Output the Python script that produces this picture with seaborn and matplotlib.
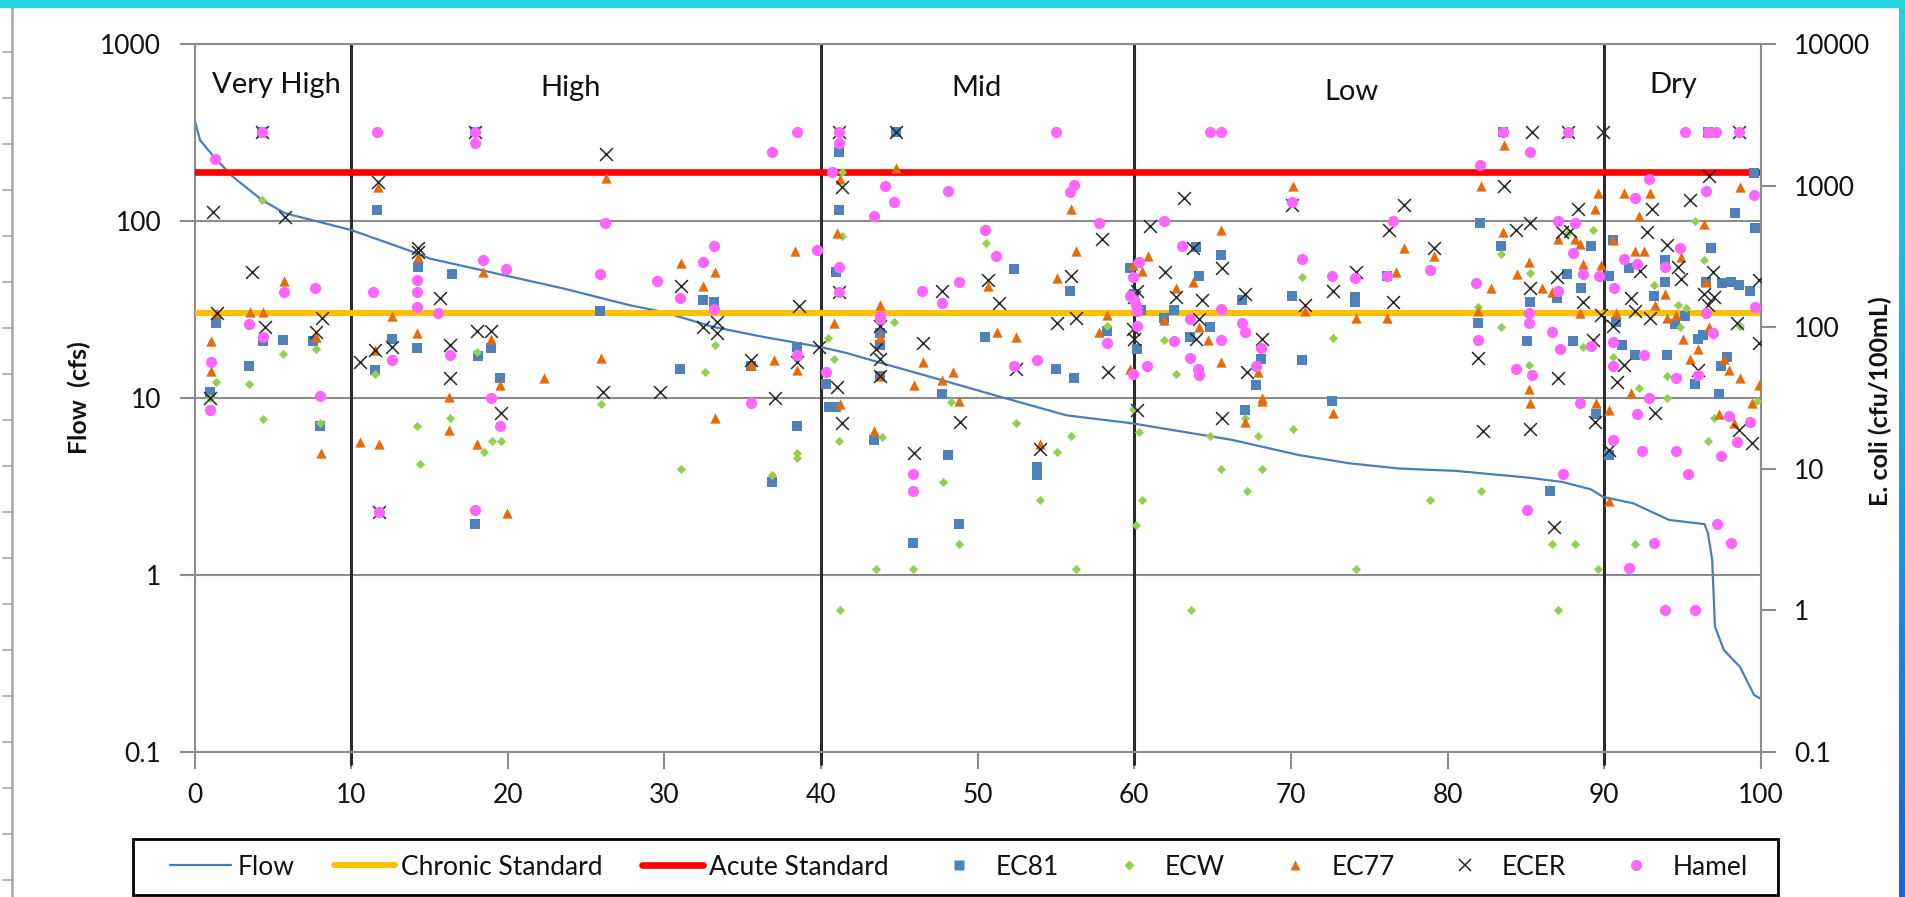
import numpy as np
import pandas as pd
import matplotlib
matplotlib.use("Agg")
import matplotlib.pyplot as plt
import seaborn as sns
from matplotlib.lines import Line2D
from matplotlib.patches import Rectangle
from matplotlib.ticker import NullLocator
from matplotlib.colors import LinearSegmentedColormap

sns.set_theme(style="white")
plt.rcParams["font.family"] = ["Lato", "DejaVu Sans"]

# ---------------- data ----------------
# flow duration curve (percent of time exceeded, flow in cfs)
FLOW_PCT = [0, 0.34, 1.30, 2.45, 4.28, 5.76, 10.02, 14.17, 15.02, 19.28, 23.53, 27.79,
            29.91, 33.10, 36.30, 39.91, 41.62, 43.94, 47.77, 51.40, 55.66, 59.89, 66.28,
            70.55, 73.75, 76.93, 80.54, 85.08, 87.34, 89.16, 89.93, 91.88, 94.14, 96.41,
            96.63, 96.90, 97.08, 97.65, 98.67, 99.58, 100]
FLOW_CFS = [372, 287, 227, 178, 132, 111, 89, 66, 61.5, 50.6, 41.7, 33.5,
            30.7, 25.3, 22.2, 19.5, 18.0, 15.7, 12.6, 10.2, 8.0, 7.2, 5.8,
            4.76, 4.28, 4.0, 3.88, 3.56, 3.36, 3.05, 2.77, 2.54, 2.05, 1.94,
            1.73, 1.22, 0.51, 0.377, 0.303, 0.21, 0.20]

CHRONIC_STD = 126    # cfu/100mL
ACUTE_STD = 1260     # cfu/100mL

REGIME_BREAKS = [10, 40, 60, 90]
REGIME_NAMES = ["Very High", "High", "Mid", "Low", "Dry"]
REGIME_CENTERS = [5.25, 24.0, 49.9, 73.9, 94.4]

# E. coli samples (flow exceedance percent, cfu/100mL)
EC81 = [
    (0.98, 35), (1.38, 108), (3.44, 53), (4.28, 2420), (4.38, 80), (5.66, 82), (7.57, 80), (7.97, 20),
    (11.51, 50), (11.61, 680), (12.59, 83), (14.17, 72), (14.26, 267), (16.43, 240), (17.90, 2420), (17.90, 4.1),
    (18.10, 63), (18.89, 71), (19.48, 44), (25.87, 130), (30.99, 51), (32.46, 157), (33.15, 151), (35.51, 53),
    (36.89, 8.1), (38.46, 20), (38.46, 73), (40.33, 40), (40.53, 27.5), (40.92, 27.5), (40.92, 247), (41.12, 1735),
    (41.12, 680), (43.38, 16), (43.77, 92), (43.77, 75), (43.77, 45), (44.76, 2420), (45.84, 3.0), (47.71, 34),
    (48.10, 12.6), (48.79, 4.1), (50.46, 85), (52.33, 258), (53.81, 10.4), (53.81, 9.0), (54.99, 51), (55.87, 182),
    (56.17, 44), (58.24, 94), (59.71, 262), (60.01, 172), (60.20, 70), (60.40, 133), (61.87, 116), (62.56, 133),
    (63.55, 85), (63.94, 371), (64.14, 230), (64.83, 100), (65.51, 324), (66.89, 156), (67.09, 26), (67.78, 39),
    (68.07, 60), (70.04, 166), (70.73, 59), (72.60, 30), (74.07, 164), (74.07, 150), (76.14, 229), (81.95, 108),
    (82.05, 547), (83.41, 374), (83.52, 2420), (85.09, 80), (85.30, 151), (86.56, 7.0), (86.98, 161), (87.60, 240),
    (88.02, 80), (88.55, 191), (89.18, 374), (89.49, 24.6), (90.33, 229), (90.33, 12.6), (90.54, 414), (90.75, 109),
    (91.17, 75), (91.58, 262), (92.00, 64), (93.16, 166), (93.89, 298), (93.89, 210), (93.99, 64), (94.52, 105),
    (95.15, 120), (95.78, 40), (95.99, 83), (96.30, 88), (96.51, 210), (96.61, 2420), (96.82, 361), (97.35, 34),
    (97.45, 53), (97.55, 205), (97.87, 62), (98.08, 210), (98.39, 640), (98.60, 198), (99.34, 182), (99.55, 1230),
    (99.65, 502),
]

ECW = [
    (0.98, 31.6), (1.38, 41), (3.44, 40), (4.28, 800), (4.38, 22.7), (5.66, 65), (7.77, 70), (7.97, 21),
    (11.51, 46.5), (14.17, 20), (14.36, 10.9), (16.33, 23), (18.00, 67), (18.49, 13.2), (18.99, 15.8), (19.58, 15.8),
    (25.97, 28.7), (31.08, 10), (32.56, 48), (33.25, 75), (36.89, 9.0), (38.46, 13), (38.46, 12), (40.43, 84),
    (40.82, 60), (41.12, 15.8), (41.22, 1.0), (41.32, 1250), (41.32, 440), (43.48, 1.96), (43.87, 16.8), (44.66, 110),
    (45.84, 1.96), (47.81, 8.1), (48.30, 29.6), (48.79, 2.95), (50.56, 395), (52.43, 21), (54.00, 6.0), (55.09, 13.1),
    (55.97, 17), (56.27, 1.96), (58.24, 103), (59.91, 26.6), (60.10, 4.0), (60.30, 18.3), (60.50, 6.0), (61.87, 81),
    (62.66, 46.5), (63.65, 1.0), (64.83, 17), (65.51, 10), (67.09, 23), (67.19, 7.0), (67.88, 17), (68.17, 10),
    (70.14, 19), (70.73, 226), (72.70, 84), (74.17, 1.96), (78.91, 6.0), (81.95, 140), (82.16, 7.0), (83.41, 330),
    (83.41, 101), (85.19, 54), (85.30, 242), (86.66, 2.95), (87.08, 1.0), (87.71, 462), (88.13, 2.95), (88.65, 73),
    (89.28, 486), (89.60, 1.96), (90.54, 62), (92.00, 2.95), (92.21, 37), (93.16, 198), (93.99, 45), (93.99, 31.6),
    (94.73, 145), (94.83, 101), (95.25, 137), (95.78, 563), (96.41, 298), (96.61, 15.8), (97.03, 23), (98.71, 103),
    (99.76, 30),
]

EC77 = [
    (1.04, 80), (1.04, 49), (1.41, 126), (3.54, 128), (4.28, 2420), (4.38, 128), (5.71, 212), (7.77, 85),
    (8.07, 12.9), (10.53, 15.4), (11.51, 69), (11.71, 982), (11.80, 14.9), (12.59, 120), (14.17, 91), (14.26, 315),
    (16.23, 32.3), (16.23, 18.8), (18.00, 15), (18.40, 247), (18.89, 83), (19.48, 39), (19.97, 4.9), (22.33, 44),
    (25.97, 61), (26.26, 1143), (31.08, 285), (32.46, 195), (33.25, 247), (33.25, 23), (35.51, 54), (36.99, 59),
    (38.36, 347), (38.46, 50), (40.82, 108), (41.02, 465), (41.22, 1125), (41.22, 28.7), (43.38, 18.5), (43.77, 145),
    (43.77, 85), (43.77, 45), (44.76, 1337), (45.94, 39), (46.53, 57), (47.71, 42.5), (48.40, 48), (48.79, 30),
    (50.66, 197), (51.25, 92.5), (52.43, 85), (54.00, 15), (55.09, 222), (55.97, 681), (56.27, 347), (57.74, 92.5),
    (58.24, 123), (59.71, 51), (59.91, 275), (60.50, 252), (60.89, 318), (61.87, 112), (62.66, 191), (63.74, 210),
    (64.14, 100), (64.73, 82), (65.51, 486), (65.51, 57), (67.09, 21.4), (67.88, 48), (68.17, 31.6), (68.17, 30),
    (70.14, 994), (70.92, 131), (72.70, 25), (74.17, 116), (76.14, 116), (76.73, 247), (77.23, 361), (79.12, 318),
    (81.95, 131), (82.16, 1000), (82.79, 189), (83.52, 473), (83.62, 1935), (84.46, 240), (85.19, 290), (85.19, 36.6),
    (85.30, 29), (86.03, 189), (86.66, 178), (87.08, 419), (87.71, 2420), (88.13, 419), (88.44, 388), (88.44, 126),
    (88.65, 281), (89.39, 681), (89.49, 29), (89.60, 890), (89.81, 275), (90.33, 26), (90.33, 5.9), (90.54, 414),
    (90.75, 126), (91.27, 890), (91.69, 34.4), (92.00, 347), (92.21, 610), (92.53, 347), (92.95, 890), (93.26, 145),
    (93.89, 172), (93.99, 116), (94.62, 123), (94.94, 315), (95.04, 83), (95.46, 60), (95.99, 70), (96.41, 541),
    (96.51, 210), (96.61, 2420), (96.72, 100), (97.35, 24.6), (97.66, 60), (97.97, 50), (98.29, 21), (98.71, 982),
    (98.71, 44), (99.44, 29), (99.86, 39),
]

ECER = [
    (0.98, 31.6), (1.15, 655), (1.41, 126), (3.64, 247), (4.28, 2420), (4.49, 101), (5.76, 603), (7.77, 92.5),
    (8.11, 116), (10.53, 57), (11.51, 69), (11.71, 1066), (11.80, 5.0), (12.59, 73), (14.26, 361), (14.26, 340),
    (15.64, 160), (16.33, 75), (16.33, 43.7), (17.90, 2420), (18.00, 94), (18.89, 94), (19.58, 25), (26.07, 35),
    (26.26, 1672), (29.71, 35), (31.08, 195), (32.46, 101), (33.35, 109), (33.35, 91), (35.51, 59), (37.08, 31.6),
    (38.46, 57), (38.56, 142), (39.84, 73), (41.02, 38), (41.12, 2420), (41.12, 178), (41.32, 982), (41.32, 21),
    (43.48, 70), (43.77, 103), (43.77, 60), (43.77, 45), (44.76, 2420), (45.94, 12.9), (46.53, 77), (47.71, 180),
    (48.89, 21.4), (50.66, 215), (51.35, 148), (52.43, 51), (54.00, 13.9), (55.09, 107), (55.97, 229), (56.27, 116),
    (57.94, 419), (58.33, 48), (59.91, 97), (60.01, 83), (60.01, 164), (60.20, 182), (60.20, 26), (60.99, 519),
    (61.97, 247), (62.66, 164), (63.15, 826), (63.74, 361), (63.94, 83), (64.14, 114), (64.33, 156), (65.61, 262),
    (65.61, 23), (67.09, 172), (67.19, 48), (68.17, 83), (70.04, 728), (70.92, 145), (72.70, 182), (74.17, 247),
    (76.24, 486), (76.53, 151), (77.23, 728), (79.12, 361), (81.95, 61), (82.26, 18.5), (83.62, 994), (84.36, 486),
    (85.30, 547), (85.30, 191), (85.30, 19.3), (85.40, 2420), (86.77, 3.9), (86.98, 226), (87.08, 44), (87.29, 473),
    (87.71, 2420), (87.81, 480), (88.34, 681), (88.65, 151), (89.28, 81), (89.39, 21.4), (89.81, 123), (89.91, 2420),
    (90.33, 13.5), (90.54, 103), (90.85, 41), (91.27, 54), (91.69, 162), (92.00, 131), (92.32, 252), (92.74, 473),
    (92.95, 116), (93.05, 681), (93.26, 25), (93.99, 380), (94.73, 267), (94.94, 219), (95.46, 800), (95.99, 50),
    (96.41, 172), (96.61, 145), (96.72, 1170), (96.93, 247), (97.03, 164), (98.50, 108), (98.60, 2420), (98.60, 18.8),
    (99.44, 15.3), (99.86, 77), (99.91, 215),
]

HAMEL = [
    (0.98, 26), (1.02, 57), (1.30, 1560), (3.44, 105), (4.28, 2420), (4.38, 85), (5.71, 178), (7.67, 191),
    (7.97, 32.7), (11.41, 178), (11.61, 2420), (11.80, 5.0), (12.59, 59), (14.17, 215), (14.17, 178), (14.17, 140),
    (15.54, 126), (16.33, 63.7), (17.90, 2420), (17.90, 2014), (17.90, 5.1), (18.40, 298), (18.89, 31.6), (19.48, 20),
    (19.87, 258), (25.87, 240), (26.17, 547), (29.51, 213), (30.99, 161), (32.46, 290), (33.15, 374), (33.15, 134),
    (35.51, 29), (36.89, 1735), (38.46, 2420), (38.46, 64), (39.74, 351), (40.33, 48), (40.72, 1260), (41.12, 2420),
    (41.12, 2014), (41.12, 267), (41.12, 178), (43.38, 610), (43.77, 120), (43.77, 114), (44.07, 994), (44.66, 769),
    (45.84, 9.2), (45.84, 7.0), (46.43, 180), (47.71, 148), (48.10, 920), (48.79, 208), (50.46, 486), (51.15, 320),
    (52.33, 53), (53.81, 59), (54.99, 2420), (55.87, 910), (56.17, 1010), (57.74, 547), (58.24, 77), (59.71, 166),
    (59.91, 226), (59.91, 46.5), (60.01, 156), (60.10, 145), (60.20, 131), (60.20, 103), (60.30, 290), (60.79, 53),
    (61.87, 563), (62.56, 80), (63.05, 374), (63.55, 114), (63.55, 61), (64.04, 51), (64.14, 46), (64.83, 2420),
    (65.51, 2420), (65.51, 134), (65.51, 82), (66.89, 108), (67.09, 92.5), (67.78, 53), (68.07, 72), (70.04, 769),
    (70.73, 302), (72.60, 229), (74.07, 223), (76.14, 229), (76.53, 568), (78.91, 256), (81.84, 205), (81.95, 82),
    (82.05, 1400), (83.52, 2420), (84.36, 51), (85.09, 5.1), (85.19, 127), (85.19, 108), (85.30, 1735), (85.40, 46),
    (86.66, 92.5), (87.08, 568), (87.08, 180), (87.19, 70), (87.39, 9.2), (87.71, 2420), (88.02, 335), (88.13, 547),
    (88.44, 29), (88.65, 237), (89.18, 74), (89.70, 229), (90.54, 79), (90.54, 53), (90.54, 16), (90.64, 191),
    (91.27, 302), (91.58, 2.0), (92.00, 826), (92.11, 281), (92.11, 24.3), (92.42, 13.3), (92.53, 64), (92.84, 1110),
    (92.84, 31.6), (93.16, 3.0), (93.89, 267), (93.89, 1.0), (94.62, 44), (94.62, 13.3), (94.83, 361), (95.15, 2420),
    (95.36, 9.2), (95.78, 1.0), (95.99, 46), (96.51, 920), (96.51, 126), (96.61, 2420), (96.93, 91), (97.14, 2420),
    (97.24, 4.1), (97.45, 12.3), (97.97, 23.5), (98.08, 3.0), (98.50, 15.5), (98.60, 2420), (99.34, 21.4), (99.55, 855),
    (99.65, 140),
]

FLOW_TICKS = [0.1, 1, 10, 100, 1000]
ECOLI_TICKS = [0.1, 1, 10, 100, 1000, 10000]
PCT_TICKS = list(range(0, 101, 10))

# ---------------- styling ----------------
C_FLOW = "#4A7EBB"
C_CHRONIC = "#FFC000"
C_ACUTE = "#FF0000"
C_EC81 = "#4F81BD"
C_ECW = "#92D050"
C_EC77 = "#E46C0A"
C_ECER = "#262626"
C_HAMEL = "#FF66FF"
C_GRID = "#8C8C8C"
C_TEXT = "#111111"

W, H = 1906, 897
fig = plt.figure(figsize=(W / 100, H / 100), dpi=100)
fig.patch.set_facecolor("white")


def fx(px):
    return px / W


def fy(py):
    return 1 - py / H


PL, PR, PT, PB = 194.7, 1760.7, 44.3, 752.0
ax = fig.add_axes([fx(PL), fy(PB), (PR - PL) / W, (PB - PT) / H])
ax2 = ax.twinx()

ax.set_xlim(0, 100)
ax.set_yscale("log")
ax.set_ylim(0.1, 1000)
ax2.set_yscale("log")
ax2.set_ylim(0.1, 10000)
ax.set_facecolor("white")

# flow regime dividers
for xb in REGIME_BREAKS:
    ax.axvline(xb, ymin=-12 / (PB - PT), ymax=1, color="#2B2B2B", lw=2.2, zorder=1.5,
               clip_on=False)

# flow duration curve on the primary axis
sns.lineplot(x=FLOW_PCT, y=FLOW_CFS, ax=ax, color=C_FLOW, linewidth=1.6,
             sort=False, estimator=None, zorder=2)

# standards on the E. coli axis
ax2.axhline(CHRONIC_STD, color=C_CHRONIC, lw=4.3, zorder=2)
ax2.axhline(ACUTE_STD, color=C_ACUTE, lw=4.8, zorder=2)


def draw_site(points, z, **kw):
    df = pd.DataFrame(points, columns=["pct", "ecoli"])
    sns.scatterplot(data=df, x="pct", y="ecoli", ax=ax2, legend=False, zorder=z, **kw)


draw_site(EC81, 3, marker="s", s=52, color=C_EC81, linewidth=0)
draw_site(ECW, 4, marker="D", s=22, color=C_ECW, linewidth=0)
draw_site(EC77, 5, marker="^", s=55, color=C_EC77, linewidth=0)
draw_site(ECER, 6, marker="x", s=85, color=C_ECER, linewidth=1.1)
draw_site(HAMEL, 7, marker="o", s=65, color=C_HAMEL, linewidth=0)

for a in (ax, ax2):
    a.set_xlabel("")
    a.set_ylabel("")

# axes, ticks and grid
ax.set_xticks(PCT_TICKS)
ax.set_xticklabels([str(t) for t in PCT_TICKS])
ax.set_yticks(FLOW_TICKS)
ax.set_yticklabels(["0.1", "1", "10", "100", "1000"])
ax.yaxis.set_minor_locator(NullLocator())
ax2.set_yticks(ECOLI_TICKS)
ax2.set_yticklabels(["0.1", "1", "10", "100", "1000", "10000"])
ax2.yaxis.set_minor_locator(NullLocator())

ax.grid(False)
ax2.grid(False)
ax.yaxis.grid(True, color=C_GRID, lw=1.5, zorder=0)

for name in ["left", "bottom", "top"]:
    ax.spines[name].set_visible(True)
    ax.spines[name].set_color(C_GRID)
    ax.spines[name].set_linewidth(1.5)
ax.spines["right"].set_visible(False)
for name in ["left", "bottom", "top"]:
    ax2.spines[name].set_visible(False)
ax2.spines["right"].set_visible(True)
ax2.spines["right"].set_color(C_GRID)
ax2.spines["right"].set_linewidth(1.5)

ax.tick_params(axis="x", direction="out", length=12, width=1.5, color=C_GRID,
               labelsize=19, labelcolor=C_TEXT, pad=10, bottom=True)
ax.tick_params(axis="y", direction="out", length=11, width=1.5, color=C_GRID,
               labelsize=19, labelcolor=C_TEXT, pad=13, left=True)
ax2.tick_params(axis="y", direction="out", length=11, width=1.5, color=C_GRID,
                labelsize=19, labelcolor=C_TEXT, pad=13, right=True)

# regime names
label_base = [93, 96, 96, 100, 93]
for xc, name, b in zip(REGIME_CENTERS, REGIME_NAMES, label_base):
    ax.text(xc, (PB - b) / (PB - PT), name, transform=ax.get_xaxis_transform(),
            ha="center", va="baseline", fontsize=21, color=C_TEXT, zorder=8)

# axis titles
fig.text(fx(79), fy(398), "Flow  (cfs)", rotation=90, ha="center", va="center",
         fontsize=18, fontweight="bold", color=C_TEXT)
fig.text(fx(1880), fy(401), "E. coli (cfu/100mL)", rotation=90, ha="center",
         va="center", fontsize=18, fontweight="bold", color=C_TEXT)

# legend (entries without frame, box drawn separately)
handles = [
    Line2D([], [], color=C_FLOW, lw=1.6),
    Line2D([], [], color=C_CHRONIC, lw=4.3),
    Line2D([], [], color=C_ACUTE, lw=4.8),
    Line2D([], [], ls="none", marker="s", ms=7.2, mfc=C_EC81, mec="none"),
    Line2D([], [], ls="none", marker="D", ms=4.6, mfc=C_ECW, mec="none"),
    Line2D([], [], ls="none", marker="^", ms=7.4, mfc=C_EC77, mec="none"),
    Line2D([], [], ls="none", marker="x", ms=9.2, mew=1.1, color=C_ECER),
    Line2D([], [], ls="none", marker="o", ms=8.0, mfc=C_HAMEL, mec="none"),
]
labels = ["Flow", "Chronic Standard", "Acute Standard", "EC81", "ECW", "EC77", "ECER", "Hamel"]
leg = fig.legend(handles, labels, loc="center", bbox_to_anchor=(fx(959), fy(867)),
                 ncol=8, frameon=False, fontsize=19, handlelength=2.31,
                 handletextpad=0.23, columnspacing=1.50, borderpad=0.3, numpoints=1)
for t in leg.get_texts():
    t.set_color(C_TEXT)
fig.add_artist(Rectangle((fx(133), fy(895)), (1778 - 133) / W, (895 - 839) / H,
                         transform=fig.transFigure, fill=False, edgecolor="black",
                         lw=2.0, zorder=9))

# page frame decorations
fig.add_artist(Rectangle((0, fy(7)), 1, 7 / H, transform=fig.transFigure,
                         color="#22D3DC", zorder=10))
band = fig.add_axes([fx(1899), 0, (W - 1899) / W, fy(7)])
grad = np.linspace(0, 1, 256)[:, None]
band_cmap = LinearSegmentedColormap.from_list(
    "band", [(0.0, "#20D2DD"), (0.35, "#1CB4E0"), (1.0, "#1466DA")])
band.imshow(grad, aspect="auto", cmap=band_cmap, extent=[0, 1, 0, 1], origin="upper")
band.set_axis_off()

fig.add_artist(Line2D([fx(12), fx(12)], [fy(7), 0], transform=fig.transFigure,
                      color="#A6A6A6", lw=1.8))
for yy in np.arange(52, 897, 46):
    fig.add_artist(Line2D([fx(3), fx(12)], [fy(yy), fy(yy)], transform=fig.transFigure,
                          color="#A6A6A6", lw=1.2))

fig.savefig("out.png", dpi=100, facecolor="white")
